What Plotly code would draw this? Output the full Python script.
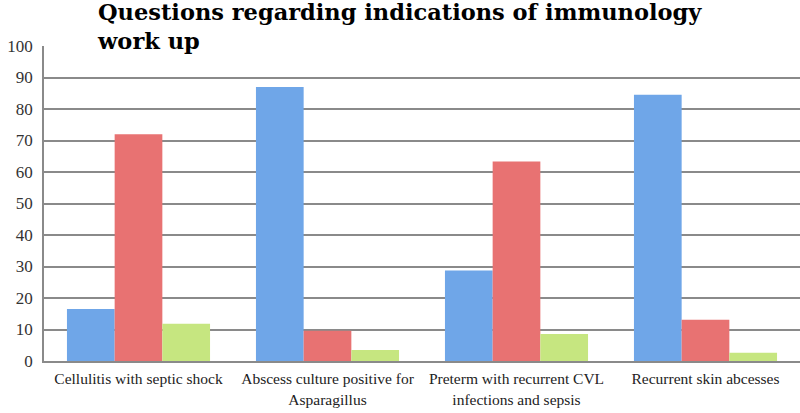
import plotly.graph_objects as go

categories = [
    "Cellulitis with septic shock",
    "Abscess culture positive for<br>Asparagillus",
    "Preterm with recurrent CVL<br>infections and sepsis",
    "Recurrent skin abcesses",
]
blue_vals = [16.5, 87.0, 28.7, 84.5]
red_vals = [72.0, 9.6, 63.3, 13.1]
green_vals = [11.8, 3.5, 8.6, 2.6]

series = [
    ("Series 1", blue_vals, "#6fa6e8"),
    ("Series 2", red_vals, "#e87272"),
    ("Series 3", green_vals, "#c6e680"),
]

fig = go.Figure()
for name, vals, col in series:
    fig.add_trace(go.Bar(x=categories, y=vals, name=name,
                         marker=dict(color=col, line=dict(width=0))))

# plot area: 44..800 px wide, 46..361 px tall
fig.update_layout(
    width=800, height=413,
    margin=dict(l=44, r=0, t=46, b=52),
    plot_bgcolor="white", paper_bgcolor="white",
    barmode="group", bargap=0.243, bargroupgap=0,
    showlegend=False,
    font=dict(family="Liberation Serif", size=15.5, color="#222"),
)
fig.add_annotation(
    text="<b>Questions regarding indications of immunology<br>work up</b>",
    font=dict(family="DejaVu Serif", size=22.5, color="black"),
    xref="paper", x=(95 - 44) / 756, xanchor="left",
    yref="paper", y=1 + 49 / 315, yanchor="top",
    align="left", showarrow=False,
)
fig.update_yaxes(range=[0, 100], dtick=10, showgrid=True, gridcolor="#8a8a8a",
                 gridwidth=1.5, showline=True, linecolor="#8a8a8a", linewidth=1.5,
                 zeroline=False, automargin=False, ticks="", ticklabelstandoff=6,
                 tickfont=dict(family="Liberation Serif", size=17, color="#333"))
fig.update_xaxes(showline=True, linecolor="#8a8a8a", linewidth=1.5,
                 automargin=False, ticklabelstandoff=3,
                 tickfont=dict(size=15.5, color="#222"))

# drop the default page margin so the figure sits at the window corner
fig.write_html("out.html", config={"displayModeBar": False},
               post_script="document.body.style.margin='0';")
